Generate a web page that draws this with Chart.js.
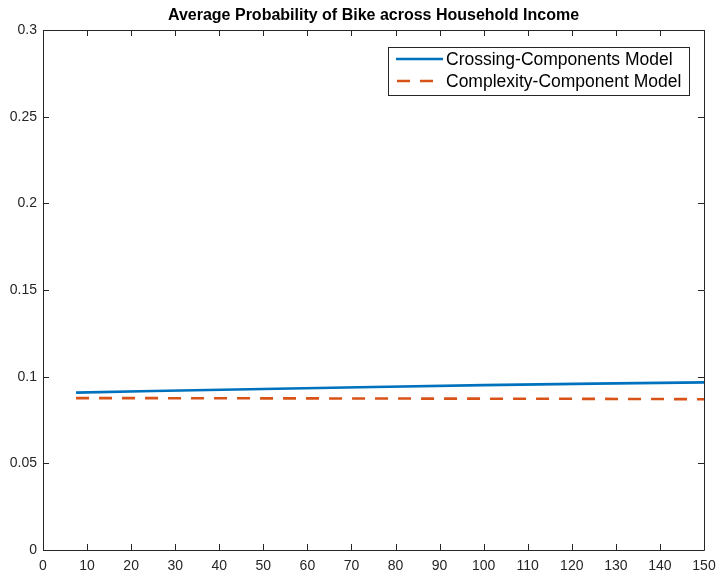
<!DOCTYPE html>
<html>
<head>
<meta charset="utf-8">
<script src="https://cdn.jsdelivr.net/npm/chart.js@4"></script>
<style>
  html, body { margin: 0; padding: 0; background: #fff; }
  #wrap { width: 718px; height: 582px; position: relative; }
</style>
</head>
<body>
<div id="wrap"><canvas id="c" width="718" height="582"></canvas></div>
<script>
// Household income (x) and average bike probability for each model
const income = [7.5, 25, 50, 75, 100, 125, 150];
const crossingComponents = [0.0908, 0.0917, 0.0929, 0.0940, 0.0951, 0.0960, 0.0967];
const complexityComponent = [0.0876, 0.0876, 0.0875, 0.0874, 0.0873, 0.0872, 0.0870];
const seriesNames = ['Crossing-Components Model', 'Complexity-Component Model'];
const xTickValues = [0, 10, 20, 30, 40, 50, 60, 70, 80, 90, 100, 110, 120, 130, 140, 150];
const yTickLabels = ['0', '0.05', '0.1', '0.15', '0.2', '0.25', '0.3'];
const chartTitle = 'Average Probability of Bike across Household Income';

const AXIS = '#262626';
const FONT = '"Liberation Sans", Arial, Helvetica, sans-serif';

const toPoints = (xs, ys) => xs.map((x, i) => ({ x: x, y: ys[i] }));

// Box-style axes with inward ticks, title and framed legend
const matlabFrame = {
  id: 'matlabFrame',
  afterDatasetsDraw(chart) {
    const { ctx, chartArea: a, scales } = chart;
    const xs = scales.x, ys = scales.y;
    const tl = 6;
    ctx.save();
    ctx.strokeStyle = AXIS;
    ctx.lineWidth = 1;
    ctx.beginPath();
    ctx.rect(Math.round(a.left) + 0.5, Math.round(a.top) + 0.5,
             Math.round(a.right - a.left), Math.round(a.bottom - a.top));
    ctx.stroke();
    ctx.beginPath();
    xTickValues.forEach(v => {
      const px = Math.round(xs.getPixelForValue(v)) + 0.5;
      ctx.moveTo(px, a.bottom); ctx.lineTo(px, a.bottom - tl);
      ctx.moveTo(px, a.top); ctx.lineTo(px, a.top + tl);
    });
    yTickLabels.forEach(t => {
      const py = Math.round(ys.getPixelForValue(parseFloat(t))) + 0.5;
      ctx.moveTo(a.left, py); ctx.lineTo(a.left + tl, py);
      ctx.moveTo(a.right, py); ctx.lineTo(a.right - tl, py);
    });
    ctx.stroke();

    // title
    ctx.fillStyle = '#000';
    ctx.font = 'bold 16px ' + FONT;
    ctx.textAlign = 'center';
    ctx.textBaseline = 'middle';
    ctx.fillText(chartTitle, (a.left + a.right) / 2, 16);

    // legend
    const lx = 388.5, ly = 47.5, lw = 301, lh = 48;
    ctx.fillStyle = '#fff';
    ctx.fillRect(lx, ly, lw, lh);
    ctx.strokeStyle = AXIS;
    ctx.lineWidth = 1;
    ctx.strokeRect(lx, ly, lw, lh);
    chart.data.datasets.forEach((ds, i) => {
      const cy = 59 + i * 22;
      ctx.save();
      ctx.strokeStyle = ds.borderColor;
      ctx.lineWidth = ds.borderWidth;
      ctx.setLineDash(ds.borderDash || []);
      ctx.beginPath();
      if (ds.borderDash) {
        ctx.moveTo(397, cy); ctx.lineTo(442, cy);
      } else {
        ctx.moveTo(396, cy); ctx.lineTo(443, cy);
      }
      ctx.stroke();
      ctx.restore();
      ctx.fillStyle = '#000';
      ctx.font = '17.5px ' + FONT;
      ctx.textAlign = 'left';
      ctx.textBaseline = 'middle';
      ctx.fillText(ds.label, 446, cy + 1);
    });
    ctx.restore();
  }
};

new Chart(document.getElementById('c'), {
  type: 'line',
  data: {
    datasets: [
      {
        label: seriesNames[0],
        data: toPoints(income, crossingComponents),
        borderColor: '#0072BD',
        borderWidth: 2.6,
        pointRadius: 0,
        tension: 0
      },
      {
        label: seriesNames[1],
        data: toPoints(income, complexityComponent),
        borderColor: '#D95319',
        borderWidth: 2.6,
        borderDash: [13, 10],
        pointRadius: 0,
        tension: 0
      }
    ]
  },
  options: {
    responsive: false,
    animation: false,
    devicePixelRatio: 1,
    layout: { padding: { top: 30, right: 14, left: 0, bottom: 0 } },
    plugins: { legend: { display: false }, title: { display: false }, tooltip: { enabled: false } },
    scales: {
      x: {
        type: 'linear',
        min: 0, max: 150,
        afterBuildTicks: s => { s.ticks = xTickValues.map(v => ({ value: v })); },
        afterFit: s => { s.height = 32; s.paddingLeft = 0; s.paddingRight = 0; },
        grid: { display: false, drawTicks: false },
        border: { display: false },
        ticks: {
          color: AXIS,
          padding: 8,
          maxRotation: 0,
          autoSkip: false,
          font: { family: FONT, size: 14 },
          callback: v => String(v)
        }
      },
      y: {
        type: 'linear',
        min: 0, max: 0.3,
        afterBuildTicks: s => { s.ticks = yTickLabels.map(t => ({ value: parseFloat(t) })); },
        afterFit: s => { s.width = 43; s.paddingTop = 0; s.paddingBottom = 0; },
        grid: { display: false, drawTicks: false },
        border: { display: false },
        ticks: {
          color: AXIS,
          padding: 6,
          autoSkip: false,
          font: { family: FONT, size: 14 },
          callback: (v, i) => yTickLabels[i]
        }
      }
    }
  },
  plugins: [matlabFrame]
});
</script>
</body>
</html>
